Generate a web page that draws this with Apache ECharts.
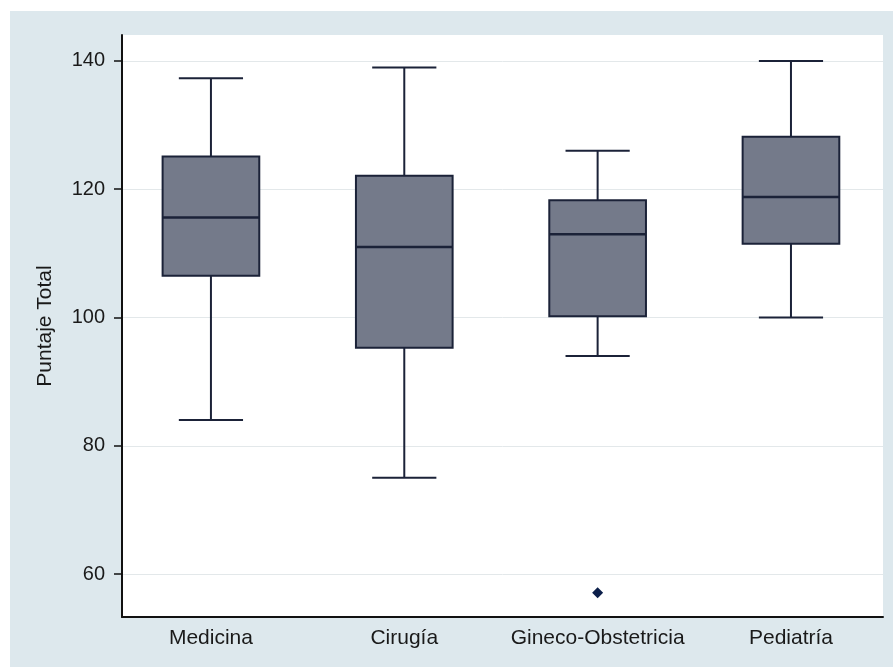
<!DOCTYPE html>
<html>
<head>
<meta charset="utf-8">
<script src="https://cdn.jsdelivr.net/npm/echarts@6/dist/echarts.min.js"></script>
<style>
  html, body { margin: 0; padding: 0; background: #ffffff; width: 893px; height: 667px; overflow: hidden; }
  #chart { position: absolute; left: 10px; top: 11px; width: 883px; height: 656px; }
</style>
</head>
<body>
<div id="chart"></div>
<script>
// ---- data ----
const categories = ['Medicina', 'Cirugía', 'Gineco-Obstetricia', 'Pediatría'];
const positions = [1, 2, 3, 4];
const whiskerLow = [84, 75, 94, 100];
const q1 = [106.5, 95.3, 100.2, 111.5];
const median = [115.6, 111, 113, 118.8];
const q3 = [125.1, 122.1, 118.3, 128.2];
const whiskerHigh = [137.3, 139, 126, 140];
const outliers = [[3, 57.1]];
const yTicks = [60, 80, 100, 120, 140];

const boxData = positions.map((p, i) => [p, whiskerLow[i], q1[i], median[i], q3[i], whiskerHigh[i]]);

const lineColor = '#1b2238';
const boxFill = '#747a8a';

const chart = echarts.init(document.getElementById('chart'));
chart.setOption({
  backgroundColor: '#dde8ed',
  animation: false,
  grid: {
    left: 112, right: 10, top: 24, bottom: 50,
    show: true, backgroundColor: '#ffffff', borderWidth: 0
  },
  xAxis: {
    type: 'value',
    min: 0.54, max: 4.476,
    axisLine: { show: true, lineStyle: { color: '#111', width: 2 } },
    axisTick: { show: false },
    splitLine: { show: false },
    axisLabel: {
      customValues: positions,
      formatter: v => categories[Math.round(v) - 1] || '',
      fontFamily: '"Liberation Sans", Arial, sans-serif',
      fontSize: 21, color: '#1a1a1a', margin: 11
    }
  },
  yAxis: {
    type: 'value',
    min: 53.3, max: 144.05,
    name: 'Puntaje Total',
    nameLocation: 'middle',
    nameGap: 66,
    nameTextStyle: { fontFamily: '"Liberation Sans", Arial, sans-serif', fontSize: 21, color: '#1a1a1a' },
    axisLine: { show: true, lineStyle: { color: '#111', width: 2 } },
    axisTick: { show: true, customValues: yTicks, length: 8, lineStyle: { color: '#111', width: 1.5 } },
    axisLabel: {
      customValues: yTicks,
      fontFamily: '"Liberation Sans", Arial, sans-serif',
      fontSize: 20, color: '#1a1a1a', margin: 17
    },
    splitLine: { show: true, lineStyle: { color: '#e3e8ea', width: 1 } }
  },
  series: [
    {
      type: 'custom',
      data: boxData,
      encode: { x: 0, y: [1, 2, 3, 4, 5] },
      renderItem: function (params, api) {
        const x = api.value(0);
        const band = api.size([1, 0])[0];
        const halfBox = band * 0.25;
        const halfCap = band * 0.166;
        const pLow = api.coord([x, api.value(1)]);
        const pQ1 = api.coord([x, api.value(2)]);
        const pMed = api.coord([x, api.value(3)]);
        const pQ3 = api.coord([x, api.value(4)]);
        const pHigh = api.coord([x, api.value(5)]);
        const ls = { stroke: lineColor, lineWidth: 2 };
        return {
          type: 'group',
          children: [
            { type: 'line', shape: { x1: pHigh[0], y1: pHigh[1], x2: pQ3[0], y2: pQ3[1] }, style: ls },
            { type: 'line', shape: { x1: pQ1[0], y1: pQ1[1], x2: pLow[0], y2: pLow[1] }, style: ls },
            { type: 'line', shape: { x1: pHigh[0] - halfCap, y1: pHigh[1], x2: pHigh[0] + halfCap, y2: pHigh[1] }, style: ls },
            { type: 'line', shape: { x1: pLow[0] - halfCap, y1: pLow[1], x2: pLow[0] + halfCap, y2: pLow[1] }, style: ls },
            { type: 'rect', shape: { x: pQ3[0] - halfBox, y: pQ3[1], width: halfBox * 2, height: pQ1[1] - pQ3[1] },
              style: { fill: boxFill, stroke: lineColor, lineWidth: 2 } },
            { type: 'line', shape: { x1: pMed[0] - halfBox, y1: pMed[1], x2: pMed[0] + halfBox, y2: pMed[1] },
              style: { stroke: lineColor, lineWidth: 2.5 } }
          ]
        };
      }
    },
    {
      type: 'scatter',
      data: outliers,
      symbol: 'diamond',
      symbolSize: 11,
      itemStyle: { color: '#0c1f4a', opacity: 1 }
    }
  ]
});
</script>
</body>
</html>
